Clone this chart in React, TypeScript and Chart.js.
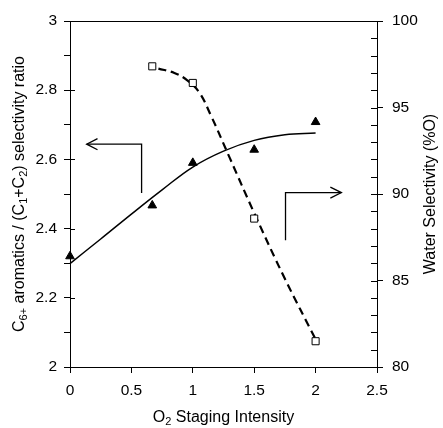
import React, { useEffect, useRef } from 'react';
import { Chart, registerables } from 'chart.js';

Chart.register(...registerables);

// Measured points
const ratioX = [0, 0.67, 1, 1.5, 2];
const ratioY = [2.32, 2.467, 2.59, 2.628, 2.708];
const waterX = [0.67, 1, 1.5, 2];
const waterY = [97.38, 96.42, 88.58, 81.49];

// Fitted curves
const ratioFitX = [0, 0.25, 0.5, 0.75, 1.0, 1.25, 1.5, 1.75, 2.0];
const ratioFitY = [2.299, 2.37, 2.442, 2.512, 2.578, 2.624, 2.655, 2.671, 2.676];
const waterFitX = [0.72, 0.85, 0.95, 1.05, 1.15, 1.3, 1.5, 1.75, 2.0];
const waterFitY = [97.25, 97.0, 96.6, 95.9, 94.5, 92.1, 88.9, 85.1, 81.6];

// Arrows (left-axis data coordinates)
const arrowLeftX = [0.583, 0.583, 0.136];
const arrowLeftY = [2.503, 2.644, 2.644];
const arrowLeftHeadX = [0.224, 0.136, 0.224];
const arrowLeftHeadY = [2.66, 2.644, 2.628];
const arrowRightX = [1.755, 1.755, 2.21];
const arrowRightY = [2.366, 2.504, 2.504];
const arrowRightHeadX = [2.12, 2.21, 2.12];
const arrowRightHeadY = [2.52, 2.504, 2.488];

// Tick labels
const xTickLabels = ['0', '0.5', '1', '1.5', '2', '2.5'];
const leftTickLabels = ['2', '2.2', '2.4', '2.6', '2.8', '3'];
const rightTickLabels = ['80', '85', '90', '95', '100'];

const FONT = '"Liberation Sans", Arial, sans-serif';
const TICK_SIZE = 15.5;

const pts = (xs: number[], ys: number[]) => xs.map((x, i) => ({ x, y: ys[i] }));

type Seg = [string, boolean];

function drawRich(ctx: CanvasRenderingContext2D, segs: Seg[], x: number, y: number, rot: number) {
  ctx.save();
  ctx.translate(x, y);
  ctx.rotate(rot);
  ctx.fillStyle = '#000';
  ctx.textBaseline = 'middle';
  ctx.textAlign = 'left';
  const normal = `16px ${FONT}`;
  const sub = `11px ${FONT}`;
  let total = 0;
  for (const [t, s] of segs) {
    ctx.font = s ? sub : normal;
    total += ctx.measureText(t).width;
  }
  let cx = -total / 2;
  for (const [t, s] of segs) {
    ctx.font = s ? sub : normal;
    ctx.fillText(t, cx, s ? 4 : 0);
    cx += ctx.measureText(t).width;
  }
  ctx.restore();
}

const leftTitle: Seg[] = [
  ['C', false], ['6+', true], [' aromatics / (C', false], ['1', true], ['+C', false], ['2', true], [') selectivity ratio', false],
];
const rightTitle: Seg[] = [['Water Selectivity (%O)', false]];
const xTitle: Seg[] = [['O', false], ['2', true], [' Staging Intensity', false]];

const decorPlugin = {
  id: 'decor',
  afterDraw(chart: any) {
    const ctx: CanvasRenderingContext2D = chart.ctx;
    const { left, right, top, bottom } = chart.chartArea;
    ctx.save();
    ctx.strokeStyle = '#000';
    ctx.lineWidth = 1;
    ctx.beginPath();
    ctx.moveTo(left, top + 0.5);
    ctx.lineTo(right, top + 0.5);
    ctx.stroke();
    const yl = chart.scales.y;
    yl.ticks.forEach((t: any, i: number) => {
      if (i % 2 !== 0) return;
      const py = Math.round(yl.getPixelForValue(t.value)) + 0.5;
      ctx.beginPath();
      ctx.moveTo(left, py);
      ctx.lineTo(left + 5, py);
      ctx.stroke();
    });
    const yr = chart.scales.y2;
    yr.ticks.forEach((t: any) => {
      const py = Math.round(yr.getPixelForValue(t.value)) + 0.5;
      ctx.beginPath();
      ctx.moveTo(right - 6, py);
      ctx.lineTo(right, py);
      ctx.stroke();
    });
    ctx.restore();
    drawRich(ctx, leftTitle, 20, (top + bottom) / 2, -Math.PI / 2);
    drawRich(ctx, rightTitle, 431, (top + bottom) / 2, -Math.PI / 2);
    drawRich(ctx, xTitle, (left + right) / 2, 418, 0);
  },
};

export default function App() {
  const ref = useRef<HTMLCanvasElement>(null);
  useEffect(() => {
    document.body.style.margin = '0';
    const canvas = ref.current!;
    const lineDs = (data: any, extra: any = {}) => ({
      data,
      showLine: true,
      pointRadius: 0,
      borderColor: '#000',
      borderWidth: 1.3,
      fill: false,
      yAxisID: 'y',
      order: 2,
      clip: false,
      ...extra,
    });
    const chart = new Chart(canvas, {
      type: 'scatter',
      data: {
        datasets: [
          {
            label: 'Ratio',
            data: pts(ratioX, ratioY),
            yAxisID: 'y',
            pointStyle: 'triangle',
            pointRadius: 5,
            backgroundColor: '#000',
            borderColor: '#000',
            borderWidth: 1,
            order: 0,
            clip: false,
          } as any,
          {
            label: 'Water',
            data: pts(waterX, waterY),
            yAxisID: 'y2',
            pointStyle: 'rect',
            pointRadius: 5,
            backgroundColor: '#fff',
            borderColor: '#000',
            borderWidth: 1,
            order: 0,
            clip: false,
          } as any,
          lineDs(pts(ratioFitX, ratioFitY), { tension: 0.4, borderWidth: 1.5 }),
          lineDs(pts(waterFitX, waterFitY), { yAxisID: 'y2', tension: 0.4, borderDash: [8, 5], borderWidth: 2.2 }),
          lineDs(pts(arrowLeftX, arrowLeftY)),
          lineDs(pts(arrowLeftHeadX, arrowLeftHeadY)),
          lineDs(pts(arrowRightX, arrowRightY)),
          lineDs(pts(arrowRightHeadX, arrowRightHeadY)),
        ],
      },
      options: {
        animation: false,
        responsive: false,
        devicePixelRatio: 1,
        layout: { padding: { top: 21, left: 0, right: 0, bottom: 0 } },
        plugins: { legend: { display: false }, tooltip: { enabled: false } },
        scales: {
          x: {
            type: 'linear',
            min: 0,
            max: 2.5,
            ticks: {
              stepSize: 0.5,
              color: '#000',
              font: { family: FONT, size: TICK_SIZE },
              padding: 8,
              maxRotation: 0,
              callback: (_v: any, i: number) => xTickLabels[i] ?? '',
            },
            grid: { drawOnChartArea: false, drawTicks: true, tickLength: 6, color: '#000' },
            border: { display: true, color: '#000', width: 1 },
            afterFit: (s: any) => { s.height = 61; },
          },
          y: {
            type: 'linear',
            position: 'left',
            min: 2,
            max: 3,
            ticks: {
              stepSize: 0.1,
              color: '#000',
              font: { family: FONT, size: TICK_SIZE },
              padding: 7,
              autoSkip: false,
              callback: (_v: any, i: number) => (i % 2 === 0 ? leftTickLabels[i / 2] : ''),
            },
            grid: { drawOnChartArea: false, drawTicks: true, tickLength: 6, color: '#000' },
            border: { display: true, color: '#000', width: 1 },
            afterFit: (s: any) => { s.width = 70; },
          },
          y2: {
            type: 'linear',
            position: 'right',
            min: 80,
            max: 100,
            ticks: {
              stepSize: 1,
              color: '#000',
              font: { family: FONT, size: TICK_SIZE },
              padding: 9,
              autoSkip: false,
              callback: (_v: any, i: number) => (i % 5 === 0 ? rightTickLabels[i / 5] : ''),
            },
            grid: {
              drawOnChartArea: false,
              drawTicks: true,
              tickLength: 6,
              color: (c: any) => (c.index % 5 === 0 ? '#000' : 'rgba(0,0,0,0)'),
            },
            border: { display: true, color: '#000', width: 1 },
            afterFit: (s: any) => { s.width = 66; },
          },
        },
      },
      plugins: [decorPlugin],
    } as any);
    return () => chart.destroy();
  }, []);
  return <canvas ref={ref} width={443} height={428} style={{ display: 'block' }} />;
}
